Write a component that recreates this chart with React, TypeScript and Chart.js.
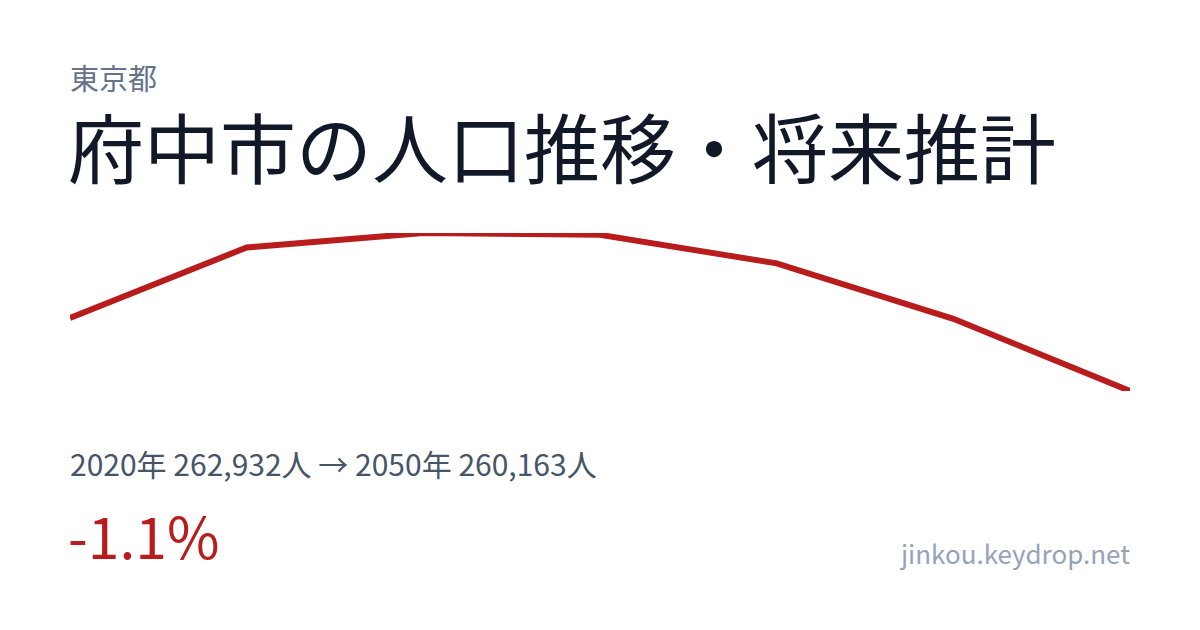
import { useEffect, useRef } from "react"
import { Chart, registerables } from "chart.js"

Chart.register(...registerables)

// 府中市の人口推移 (2020年〜2050年, 5年ごと)
const years = ["2020", "2025", "2030", "2035", "2040", "2045", "2050"]
const population = [262932, 265600, 266150, 266080, 265000, 262900, 260163]

const prefecture = "東京都"
const title = "府中市の人口推移・将来推計"
const siteName = "jinkou.keydrop.net"

const fmt = (n: number) => n.toLocaleString("en-US")

function PopulationLine() {
  const chartRef = useRef<HTMLCanvasElement>(null)
  const chartInstance = useRef<Chart | null>(null)

  useEffect(() => {
    if (!chartRef.current) return
    if (chartInstance.current) {
      chartInstance.current.destroy()
    }
    const ctx = chartRef.current.getContext("2d")
    if (!ctx) return

    chartInstance.current = new Chart(ctx, {
      type: "line",
      data: {
        labels: years,
        datasets: [
          {
            data: population,
            borderColor: "#b91c1c",
            borderWidth: 6,
            borderCapStyle: "butt",
            borderJoinStyle: "miter",
            pointRadius: 0,
            pointHoverRadius: 0,
            tension: 0,
            fill: false,
            clip: false,
          },
        ],
      },
      options: {
        responsive: true,
        maintainAspectRatio: false,
        animation: false,
        events: [],
        layout: { padding: 0 },
        plugins: {
          legend: { display: false },
          tooltip: { enabled: false },
          title: { display: false },
        },
        scales: {
          x: { display: false, offset: false },
          y: {
            display: false,
            min: Math.min(...population),
            max: Math.max(...population),
          },
        },
      },
    })

    return () => {
      if (chartInstance.current) {
        chartInstance.current.destroy()
        chartInstance.current = null
      }
    }
  }, [])

  return (
    <div style={{ position: "absolute", left: 70, top: 233, width: 1060, height: 158 }}>
      <canvas ref={chartRef}></canvas>
    </div>
  )
}

export default function App() {
  const first = population[0]
  const last = population[population.length - 1]
  const change = ((last - first) / first) * 100

  return (
    <div
      style={{
        position: "absolute",
        left: 0,
        top: 0,
        width: 1200,
        height: 630,
        background: "#ffffff",
        overflow: "hidden",
        fontFamily: '"Noto Sans CJK JP", "Noto Sans", sans-serif',
      }}
    >
      <div style={{ position: "absolute", left: 70, top: 63, fontSize: 29, lineHeight: 1, color: "#64748b" }}>
        {prefecture}
      </div>
      <div style={{ position: "absolute", left: 68, top: 107, fontSize: 76, lineHeight: 1, color: "#111827" }}>
        {title}
      </div>
      <PopulationLine />
      <div style={{ position: "absolute", left: 70, top: 448, fontSize: 30, lineHeight: 1, color: "#475569" }}>
        {years[0]}年 {fmt(first)}人 → {years[years.length - 1]}年 {fmt(last)}人
      </div>
      <div style={{ position: "absolute", left: 68, top: 506, fontSize: 57, lineHeight: 1, color: "#b91c1c" }}>
        {change.toFixed(1)}%
      </div>
      <div
        style={{
          position: "absolute",
          right: 70,
          top: 540,
          fontSize: 26,
          lineHeight: 1,
          color: "#94a3b8",
        }}
      >
        {siteName}
      </div>
    </div>
  )
}
